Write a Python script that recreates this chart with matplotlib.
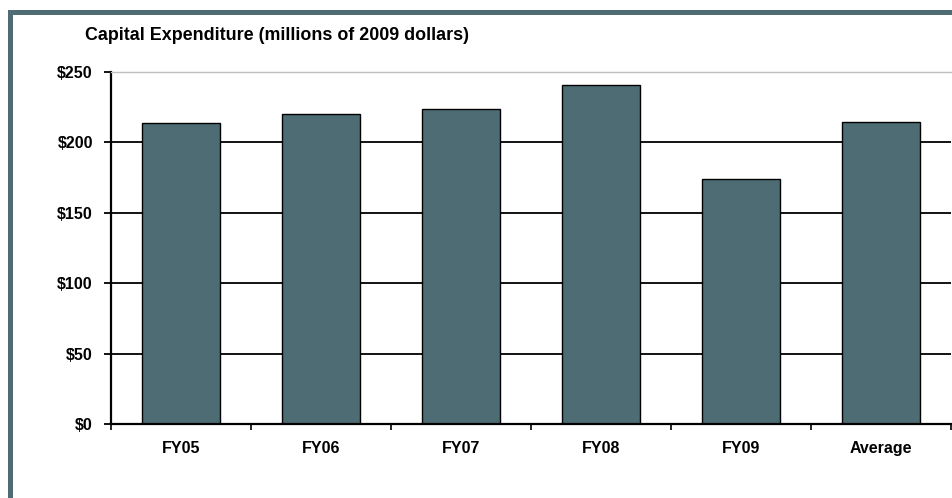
import matplotlib
matplotlib.use("Agg")
import matplotlib.pyplot as plt
from matplotlib.patches import Rectangle
import numpy as np

categories = ["FY05", "FY06", "FY07", "FY08", "FY09", "Average"]
capex = [213.5, 220.0, 223.5, 241.0, 174.0, 214.5]
y_ticks = [0, 50, 100, 150, 200, 250]
y_tick_labels = ["$0", "$50", "$100", "$150", "$200", "$250"]
title = "Capital Expenditure (millions of 2009 dollars)"

bar_color = "#4e6c74"
frame_color = "#4f6b73"

plt.rcParams["font.family"] = ["Liberation Sans", "DejaVu Sans"]

W, H = 952, 498
fig = plt.figure(figsize=(W / 100, H / 100), dpi=100)
fig.patch.set_facecolor("white")

# outer frame: top and left bands
fig.add_artist(Rectangle((8 / W, 0), 5 / W, 1 - 10 / H, transform=fig.transFigure,
                         facecolor=frame_color, edgecolor="none"))
fig.add_artist(Rectangle((8 / W, 1 - 15 / H), 1, 5 / H, transform=fig.transFigure,
                         facecolor=frame_color, edgecolor="none"))

ax = fig.add_axes([111 / W, 74 / H, 840 / W, 352 / H])
x = np.arange(len(categories))

for v in y_ticks[1:-1]:
    ax.axhline(v, color="black", linewidth=1.3, zorder=1)

ax.bar(x, capex, width=0.56, color=bar_color, edgecolor="black", linewidth=1.0, zorder=2)

ax.set_xlim(-0.5, len(categories) - 0.5)
ax.set_ylim(0, 250)

ax.set_yticks(y_ticks)
ax.set_yticklabels(y_tick_labels, fontsize=11.5, fontweight="bold")
ax.set_xticks(x)
ax.set_xticklabels(categories, fontsize=11.5, fontweight="bold")
ax.set_xticks(np.arange(len(categories) + 1) - 0.5, minor=True)
ax.tick_params(axis="x", which="major", length=0, pad=12)
ax.tick_params(axis="x", which="minor", length=4, width=1.2, direction="out")
ax.tick_params(axis="y", length=5, width=1.3, direction="out", pad=8)

ax.spines["right"].set_visible(False)
ax.spines["top"].set_color("#c0c0c0")
ax.spines["top"].set_linewidth(1.0)
ax.spines["left"].set_linewidth(1.6)
ax.spines["bottom"].set_linewidth(1.6)

fig.text(85 / W, 1 - 35 / H, title, fontsize=12.9, fontweight="bold", va="center", ha="left")

fig.savefig("out.png", dpi=100)
